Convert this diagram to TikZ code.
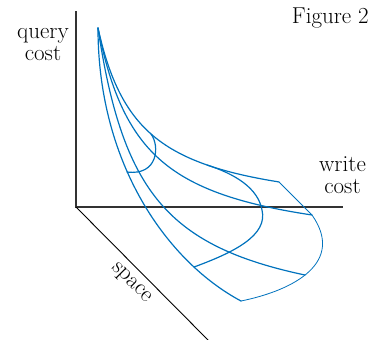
\documentclass[tikz,border=0pt]{standalone}
\usepackage{fontspec}
\setmainfont{Latin Modern Roman}
\definecolor{surf}{RGB}{0,114,189}
\begin{document}
\begin{tikzpicture}[x=1bp,y=-1bp,
  surfline/.style={draw=surf,line width=1.2bp,line join=round,line cap=round},
  edgeline/.style={draw=surf,line width=0.8bp,line join=round},
  axisline/.style={draw=black!80,line width=1.3bp},
  diagline/.style={draw=black,line width=0.9bp},
  lbl/.style={font=\fontsize{23bp}{21.5bp}\selectfont,inner sep=0pt,align=center}]
\useasboundingbox (0,0) rectangle (374,340);
% axes
\coordinate (O) at (76,207);
\coordinate (Ytop) at (76,11);
\coordinate (Xend) at (343,207);
\coordinate (Zend) at (209,341);
\draw[axisline] (Ytop) -- (O) -- (Xend);
\draw[diagline] (O) -- (Zend);
% surface corner points
\coordinate (A) at (98,28);
\coordinate (E1) at (241,301);
\coordinate (E2) at (305,275);
\coordinate (E3) at (312,215);
\coordinate (E4) at (279,182);
% curves from the apex
\draw[surfline] (A) .. controls (98,165) and (168,262) .. (E1);
\draw[surfline] plot[domain=98:305,samples=160,smooth] (\x,{328-13321/(\x-53.6)});
\draw[surfline] plot[domain=98:312,samples=160,smooth] (\x,{253.7-10000/(\x-53.7)});
\draw[surfline] plot[domain=98:279,samples=160,smooth] (\x,{217.5-7921/(\x-56.2)});
% cross sections
\draw[surfline] (127,172) .. controls (158,176) and (160,146) .. (151,134);
\draw[surfline] (194,267) .. controls (235,252) and (268,235) .. (262,210)
                          .. controls (258,188) and (235,174) .. (207,165);
% outer boundary
\draw[edgeline] (E1) .. controls (295,290) and (345,262) .. (E3) -- (E4);
% labels
\node[lbl,anchor=base] (qc) at (43,60) {query\\cost};
\node[lbl,anchor=base] (wc) at (342.5,193) {write\\cost};
\node[lbl,anchor=base east] (fig) at (369,23) {Figure 2};
\node[lbl,rotate=-45] (sp) at (131,283.5) {space};
\end{tikzpicture}
\end{document}
